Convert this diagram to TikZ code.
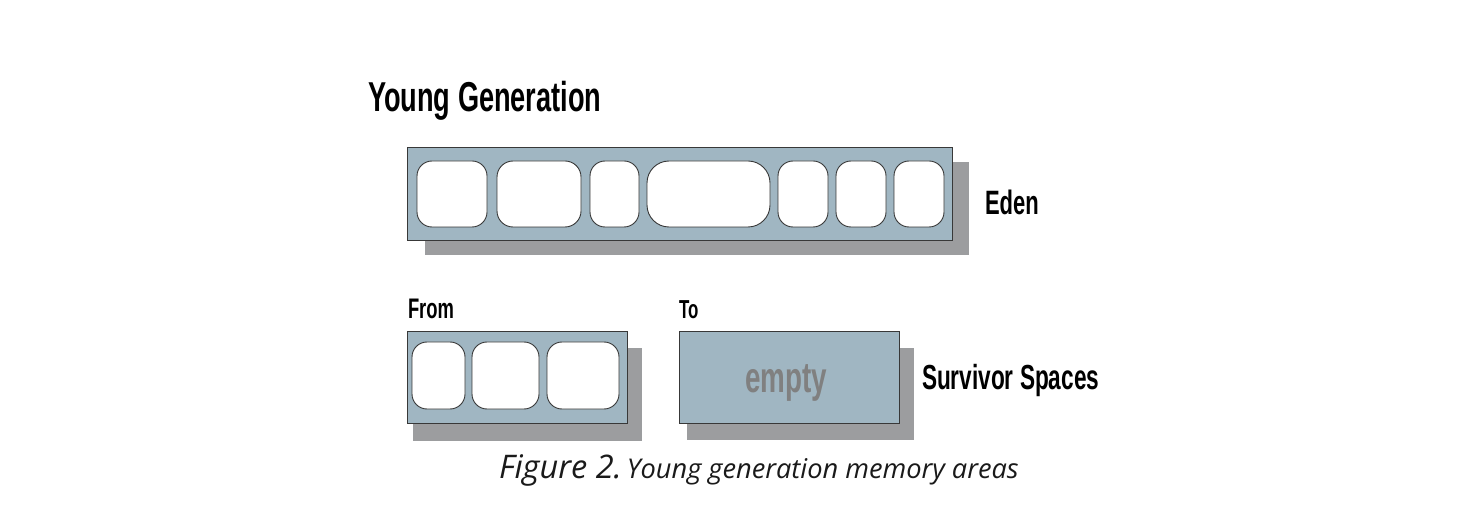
\documentclass[tikz,border=0pt]{standalone}
\usepackage{fontspec}
\newfontfamily\condb{Liberation Sans}[FakeStretch=0.65]
\newfontfamily\capfont{Open Sans}
\definecolor{boxfill}{HTML}{A0B6C2}
\definecolor{shadowgray}{HTML}{9C9D9F}
\definecolor{edgegray}{HTML}{383838}
\definecolor{emptygray}{HTML}{808080}
\definecolor{captext}{HTML}{1A1A1A}
\begin{document}
\begin{tikzpicture}[x=1pt,y=1pt,
  membox/.style={fill=boxfill, draw=edgegray, line width=0.9pt},
  cellbox/.style={fill=white, draw=edgegray, line width=0.9pt, rounded corners=15pt},
  lbl/.style={anchor=base west, inner sep=0pt, outer sep=0pt},
]
\useasboundingbox (0,0) rectangle (1480,-510);
\fill[white] (0,0) rectangle (1480,-510);

% Title
\node[lbl, font={\condb\bfseries\fontsize{41.8}{48}\selectfont}] (title) at (368,-112) {Young Generation};

% Eden
\fill[shadowgray] (425,-162) rectangle (969,-255);
\node[membox, anchor=north west, minimum width=545pt, minimum height=93pt, inner sep=0pt] (eden) at (407,-147) {};
\foreach \a/\b/\r [count=\i] in {417/487/15, 497/581/16, 590/639/15, 647/770/22, 778/828/15, 836/886/15, 894/944/15}{
  \draw[cellbox, rounded corners=\r pt] (\a,-161) rectangle (\b,-227);
}
\node[lbl, font={\condb\bfseries\fontsize{33.8}{40}\selectfont}] (edenlbl) at (985,-215) {Eden};

% From
\node[lbl, font={\condb\bfseries\fontsize{28.3}{34}\selectfont}] (fromlbl) at (408,-319) {From};
\fill[shadowgray] (413,-348) rectangle (642,-441);
\node[membox, anchor=north west, minimum width=220pt, minimum height=92pt, inner sep=0pt] (from) at (407,-331) {};
\foreach \a/\b in {412/465, 472/539, 547/619}{
  \draw[cellbox] (\a,-342) rectangle (\b,-409);
}

% To
\node[lbl, font={\condb\bfseries\fontsize{26}{32}\selectfont}] (tolbl) at (679,-319) {To};
\fill[shadowgray] (687,-348) rectangle (914,-440);
\node[membox, anchor=north west, minimum width=220pt, minimum height=92pt, inner sep=0pt] (to) at (679,-331) {};
\node[lbl, text=emptygray, font={\condb\bfseries\fontsize{42.8}{48}\selectfont}] (emptylbl) at (745,-392) {empty};

\node[lbl, font={\condb\bfseries\fontsize{34.8}{40}\selectfont}] (survlbl) at (922,-389) {Survivor Spaces};

% Caption
\node[lbl, text=captext, font={\capfont\itshape}] (caption) at (499,-478) {{\fontsize{32.5}{38}\selectfont Figure 2.}\hspace{5pt}{\fontsize{27.2}{32}\selectfont Young generation memory areas}};
\end{tikzpicture}
\end{document}
